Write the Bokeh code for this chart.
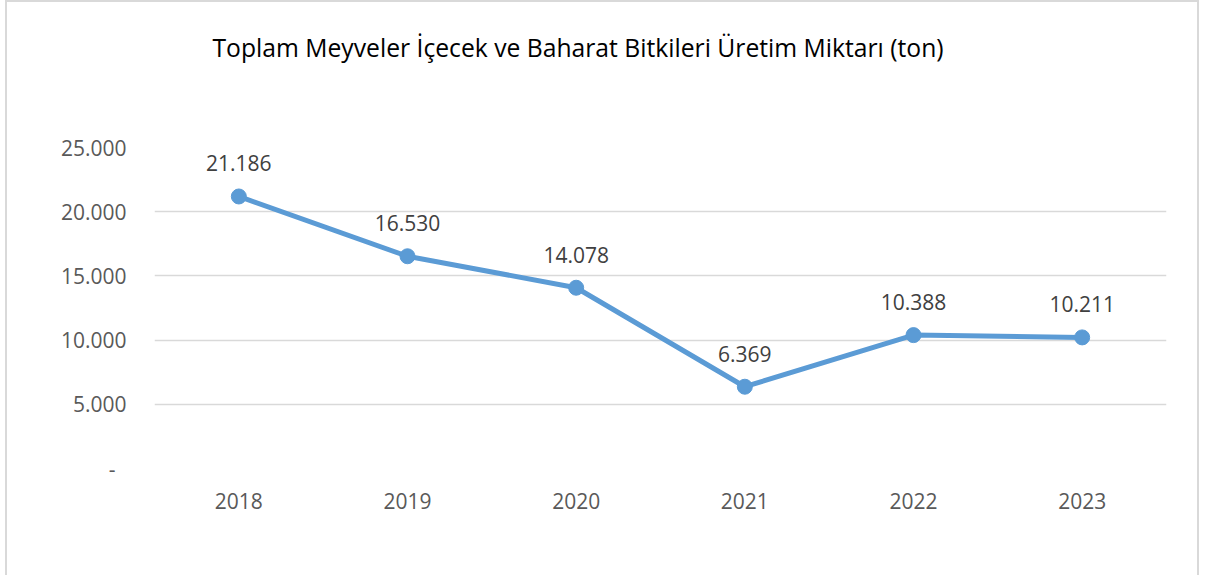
from bokeh.plotting import figure
from bokeh.models import ColumnDataSource, LabelSet, FixedTicker, Range1d, Title
from bokeh.core.properties import value
from bokeh.embed import file_html
from bokeh.resources import INLINE

years = ["2018", "2019", "2020", "2021", "2022", "2023"]
values = [21186, 16530, 14078, 6369, 10388, 10211]
y_ticks = [0, 5000, 10000, 15000, 20000, 25000]
y_tick_labels = ["-\u00a0\u00a0", "5.000", "10.000", "15.000", "20.000", "25.000"]
title_text = "Toplam Meyveler İçecek ve Baharat Bitkileri Üretim Miktarı (ton)"

FONT = "Open Sans"
LINE_COLOR = "#5B9BD5"
GRID_COLOR = "#D9D9D9"
W, H = 1194, 575

def fmt(v):
    return f"{v:,}".replace(",", ".")

source = ColumnDataSource(dict(x=years, y=values, label=[fmt(v) for v in values]))

p = figure(
    width=W, height=H,
    x_range=years, y_range=Range1d(0, 25000),
    output_backend="svg", toolbar_location=None,
    min_border_left=147, min_border_right=35,
    min_border_top=145, min_border_bottom=109,
    background_fill_color="white", border_fill_color="white",
    outline_line_color=None,
)
p.styles = {"margin-left": "5px",
            "border-left": "2px solid #D9D9D9", "border-top": "2px solid #D9D9D9",
            "border-right": "2px solid #D9D9D9"}

p.title.text = title_text
p.title.text_font = FONT
p.title.text_font_size = "24.7px"
p.title.text_font_style = "normal"
p.title.text_color = "#000000"
p.title.align = "left"
p.title.offset = 58
p.title.standoff = 52

# place the title only through the 'above' list, with an invisible spacer
# between the frame and the title
p.title_location = None
spacer = Title(text=" ", text_font_size="1px", standoff=55, text_color="white")
p.above = [spacer, p.title]

p.line("x", "y", source=source, line_color=LINE_COLOR, line_width=5)
p.scatter("x", "y", source=source, size=15, fill_color=LINE_COLOR, line_color=LINE_COLOR)

labels = LabelSet(x="x", y="y", text="label", source=source,
                  text_align="center", text_baseline="middle", y_offset=33,
                  text_font=value(FONT), text_font_size="21px", text_color="#404040")
p.add_layout(labels)

# axes
p.yaxis.ticker = FixedTicker(ticks=y_ticks)
p.yaxis.major_label_overrides = {t: l for t, l in zip(y_ticks, y_tick_labels)}
for ax in (p.xaxis[0], p.yaxis[0]):
    ax.axis_line_color = None
    ax.major_tick_line_color = None
    ax.minor_tick_line_color = None
    ax.major_label_text_font = FONT
    ax.major_label_text_font_size = "21px"
    ax.major_label_text_color = "#595959"
p.yaxis.major_label_standoff = 22
p.xaxis.major_label_standoff = 18

p.xgrid.grid_line_color = None
p.ygrid.grid_line_color = GRID_COLOR
p.ygrid.grid_line_width = 1.5

open("out.html", "w").write(file_html(p, INLINE))
